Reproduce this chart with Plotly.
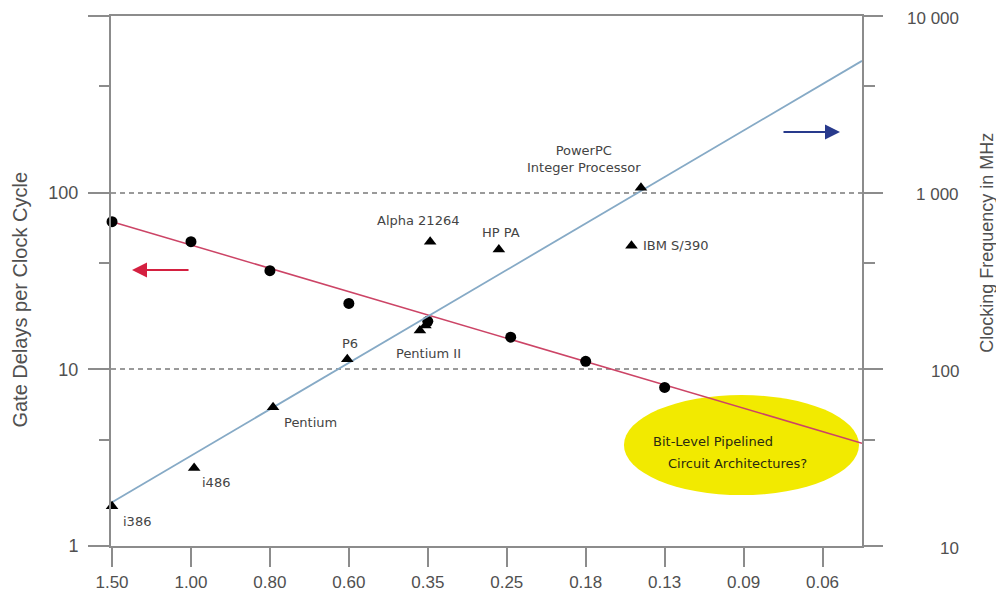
import math
import plotly.graph_objects as go

# ---------------- data ----------------
feature_sizes = ["1.50", "1.00", "0.80", "0.60", "0.35", "0.25", "0.18", "0.13", "0.09", "0.06"]
node_pos = list(range(len(feature_sizes)))

gate_pos = [0, 1, 2, 3, 4, 5.05, 6, 7]
gate_delays = [68.5, 52.8, 36.2, 23.6, 18.7, 15.2, 11.1, 7.9]

cpu_names = ["i386", "i486", "Pentium", "P6", "Pentium II", "Pentium II",
             "Alpha 21264", "HP PA", "IBM S/390", "PowerPC<br>Integer Processor"]
cpu_pos = [0, 1.04, 2.04, 2.98, 3.9, 3.97, 4.03, 4.9, 6.58, 6.7]
cpu_mhz = [16.8, 27.6, 61, 114, 166, 177, 528, 477, 501, 1067]

trend_pos = [0, 9.5]
gate_trend = [68.5, 3.82]
clock_trend = [17.7, 5570]

left_ticks = [1, 10, 100, 1000]
left_text = ["1", "10", "100", "1 000"]
left_minor = [4, 40, 400]
right_ticks = [10, 100, 1000, 10000]
right_text = ["10", "100", "1 000", "10 000"]
right_minor = [40, 400, 4000]

# label placement (pixel offsets from each triangle), index into cpu lists
label_layout = [
    (0, 25, -15, "center"),
    (1, 22, -14, "center"),
    (2, 37, -15, "center"),
    (3, 3, 16, "center"),
    (5, 3, -28, "center"),
    (6, -12, 21, "center"),
    (7, 2, 17, "center"),
    (8, 10, 0, "left"),
    (9, -57, 29, "center"),
]

AX = "#8c8c8c"
TXT = "#505050"
LBL = "#444444"

fig = go.Figure()

fig.add_trace(go.Scatter(x=trend_pos, y=clock_trend, yaxis="y2", mode="lines",
                         line=dict(color="#86aac6", width=1.8), hoverinfo="skip",
                         showlegend=False))
fig.add_trace(go.Scatter(x=trend_pos, y=gate_trend, yaxis="y", mode="lines",
                         line=dict(color="#cc4466", width=1.5), hoverinfo="skip",
                         showlegend=False))
fig.add_trace(go.Scatter(x=gate_pos, y=gate_delays, yaxis="y", mode="markers",
                         marker=dict(symbol="circle", size=11, color="black"),
                         cliponaxis=False, showlegend=False, name="Gate delays"))
fig.add_trace(go.Scatter(x=cpu_pos, y=cpu_mhz, yaxis="y2", mode="markers",
                         marker=dict(symbol="triangle-up", size=11, color="black"),
                         cliponaxis=False, showlegend=False, name="Clock",
                         text=cpu_names))

annotations = []
for idx, dx, dy, anchor in label_layout:
    annotations.append(dict(x=cpu_pos[idx], y=math.log10(cpu_mhz[idx]), xref="x", yref="y2",
                            text=cpu_names[idx], showarrow=False, xanchor=anchor,
                            yanchor="middle", xshift=dx, yshift=dy, align="center",
                            font=dict(family="DejaVu Sans", size=13, color=LBL)))

# right axis tick labels (right aligned)
for v, t in zip(right_ticks, right_text):
    annotations.append(dict(x=1, y=math.log10(v), xref="paper", yref="y2", text=t,
                            showarrow=False, xanchor="right", yanchor="middle",
                            xshift=98, yshift=-2, borderpad=0,
                            font=dict(family="Liberation Sans", size=17, color=TXT)))

# axis titles
annotations.append(dict(x=-0.1205, y=0.464, xref="paper", yref="paper",
                        text="Gate Delays per Clock Cycle", textangle=-90, showarrow=False,
                        xanchor="center", yanchor="middle", borderpad=0,
                        font=dict(family="Liberation Sans", size=20, color=TXT)))
annotations.append(dict(x=1.1664, y=0.572, xref="paper", yref="paper",
                        text="Clocking Frequency in MHz", textangle=-90, showarrow=False,
                        xanchor="center", yanchor="middle",
                        font=dict(family="Liberation Sans", size=18, color=TXT)))

# direction arrows
annotations.append(dict(x=0.028, y=0.5208, xref="paper", yref="paper", text="",
                        showarrow=True, ax=58, ay=0, axref="pixel", ayref="pixel",
                        arrowhead=2, arrowsize=1.5, arrowwidth=2, arrowcolor="#d42040"))
annotations.append(dict(x=0.9707, y=0.7811, xref="paper", yref="paper", text="",
                        showarrow=True, ax=-58, ay=0, axref="pixel", ayref="pixel",
                        arrowhead=2, arrowsize=1.5, arrowwidth=2, arrowcolor="#283a8c"))

# ellipse text
annotations.append(dict(x=0.8016, y=0.198, xref="paper", yref="paper",
                        text="Bit-Level Pipelined", showarrow=False, xanchor="center",
                        yanchor="middle",
                        font=dict(family="DejaVu Sans", size=13, color="#2a2a10")))
annotations.append(dict(x=0.8342, y=0.1566, xref="paper", yref="paper",
                        text="Circuit Architectures?", showarrow=False, xanchor="center",
                        yanchor="middle",
                        font=dict(family="DejaVu Sans", size=13, color="#2a2a10")))

shapes = [dict(type="circle", xref="paper", yref="paper", x0=0.683, x1=0.996,
               y0=0.096, y1=0.285, fillcolor="#f2ea00", line=dict(width=0), layer="below")]

fig.update_layout(
    width=996, height=589,
    margin=dict(l=103, r=142, t=8, b=51),
    paper_bgcolor="white", plot_bgcolor="white",
    showlegend=False,
    annotations=annotations,
    shapes=shapes,
    xaxis=dict(range=[-0.013, 9.5], tickmode="array", tickvals=node_pos,
               ticktext=feature_sizes, ticks="outside", ticklen=19, tickwidth=2,
               tickcolor=AX, showline=True, linecolor=AX, linewidth=2, mirror=True,
               showgrid=False, zeroline=False, automargin=False,
               ticklabelstandoff=1,
               tickfont=dict(family="Liberation Sans", size=17, color=TXT)),
    yaxis=dict(type="log", range=[0, 3], tickmode="array", tickvals=left_ticks,
               ticktext=left_text, ticks="outside", ticklen=21, tickwidth=2,
               tickcolor=AX, showline=True, linecolor=AX, linewidth=2,
               showgrid=True, gridcolor="#9a9a9a", gridwidth=1.5, griddash="5px,4px",
               zeroline=False, automargin=False, ticklabelstandoff=6,
               minor=dict(tickmode="array", tickvals=left_minor, ticks="outside",
                          ticklen=10, tickwidth=2, tickcolor=AX, showgrid=False),
               tickfont=dict(family="Liberation Sans", size=18, color=TXT)),
    yaxis2=dict(type="log", range=[1, 4], overlaying="y", side="right",
                tickmode="array", tickvals=right_ticks, showticklabels=False,
                ticks="outside", ticklen=19, tickwidth=2, tickcolor=AX,
                showline=True, linecolor=AX, linewidth=2, showgrid=False,
                zeroline=False, automargin=False,
                minor=dict(tickmode="array", tickvals=right_minor, ticks="outside",
                           ticklen=11, tickwidth=2, tickcolor=AX, showgrid=False)),
)

fig.write_html("out.html")
